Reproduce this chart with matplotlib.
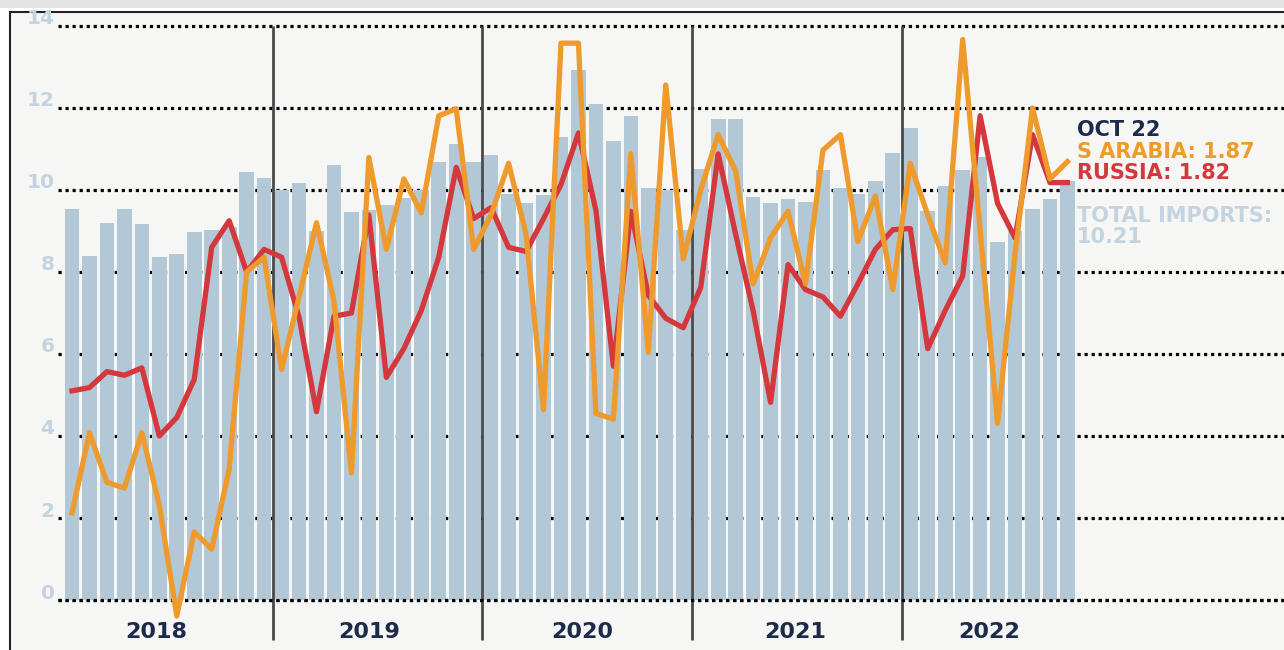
import matplotlib.pyplot as plt
from matplotlib.patches import Rectangle
import numpy as np

# monthly values, Jan 2018 - Oct 2022 (as plotted on the chart scale)
total = [9.53, 8.39, 9.20, 9.53, 9.16, 8.36, 8.44, 8.97, 9.03, 9.10, 10.44, 10.29,
         10.00, 10.18, 9.00, 10.62, 9.46, 9.50, 9.64, 9.80, 10.00, 10.69, 11.11, 10.69,
         10.85, 9.90, 9.69, 9.87, 11.30, 12.93, 12.10, 11.20, 11.81, 10.04, 10.00, 9.03,
         10.50, 11.72, 11.72, 9.84, 9.69, 9.79, 9.71, 10.48, 10.04, 9.90, 10.23, 10.90,
         11.50, 9.48, 10.10, 10.48, 10.80, 8.74, 9.00, 9.53, 9.79, 10.21]
russia = [5.10, 5.18, 5.57, 5.48, 5.66, 4.00, 4.45, 5.38, 8.60, 9.25, 8.00, 8.55,
          8.36, 6.90, 4.59, 6.92, 7.00, 9.39, 5.43, 6.13, 7.06, 8.36, 10.55, 9.30,
          9.57, 8.60, 8.50, 9.30, 10.13, 11.39, 9.50, 5.70, 9.48, 7.43, 6.87, 6.64,
          7.62, 10.88, 8.92, 7.06, 4.82, 8.18, 7.57, 7.39, 6.92, 7.71, 8.55, 9.03,
          9.06, 6.13, 7.06, 7.90, 11.81, 9.67, 8.83, 11.35, 10.18, 10.18]
sarabia = [2.12, 4.08, 2.87, 2.73, 4.08, 2.31, -0.39, 1.66, 1.24, 3.19, 8.00, 8.36,
           5.62, 7.39, 9.20, 7.30, 3.10, 10.79, 8.55, 10.27, 9.44, 11.81, 11.98, 8.55,
           9.40, 10.65, 8.92, 4.64, 13.58, 13.58, 4.55, 4.41, 10.88, 6.04, 12.56, 8.32,
           10.00, 11.35, 10.46, 7.71, 8.83, 9.48, 7.71, 10.97, 11.35, 8.74, 9.85, 7.57,
           10.65, 9.39, 8.22, 13.67, 9.02, 4.31, 8.44, 12.00, 10.27, 10.69]
years = ['2018', '2019', '2020', '2021', '2022']
year_pos = [4.8, 17.0, 29.2, 41.4, 52.5]
yticks = [0, 2, 4, 6, 8, 10, 12, 14]
last_label = 'OCT 22'
sa_last = 1.87
ru_last = 1.82

bar_col = '#b3c8d6'
red = '#d4383d'
orange = '#ee9a2c'
navy = '#1c2b4a'
pale = '#c3d4e0'

x = np.arange(len(total))

fig = plt.figure(figsize=(12.84, 6.5), dpi=100)
fig.patch.set_facecolor('white')
fig.patches.append(Rectangle((0, 1 - 8 / 650), 1, 8 / 650, transform=fig.transFigure,
                             facecolor='#e4e4e4', edgecolor='none', zorder=0))

ax = fig.add_axes([10 / 1284, 0, 1274 / 1284, 638 / 650])
ax.set_facecolor('#f6f6f4')
ax.set_xlim(-3.55, 69.4)
ax.set_ylim(-1.22, 14.34)
for s in ['right', 'bottom']:
    ax.spines[s].set_visible(False)
for s in ['left', 'top']:
    ax.spines[s].set_linewidth(1.5)
    ax.spines[s].set_color('#222222')
ax.set_xticks([])
ax.set_yticks([])

# dotted gridlines
for v in yticks:
    ax.plot([-0.8, 69.4], [v, v], color='black', lw=2.3, ls=(0, (1, 1.2)), zorder=1)
    ax.text(-1.0, v + 0.17, str(v), ha='right', va='center', fontsize=14.5,
            fontweight='bold', color=pale)
ax.plot([-0.8, 69.4], [0, 0], color='black', lw=2.3, ls=(0, (1, 1.2)), zorder=4)

ax.bar(x, total, width=0.84, color=bar_col, zorder=2)

# year separators
for i in range(1, len(years)):
    ax.vlines(12 * i - 0.5, -0.98, 14, color='#4a4a4a', lw=2, zorder=3)
for pos, yr in zip(year_pos, years):
    ax.text(pos, -0.78, yr, ha='center', va='center', fontsize=16,
            fontweight='bold', color=navy)

ax.plot(x, russia, color=red, lw=3.8, zorder=5)
ax.plot(x, sarabia, color=orange, lw=3.8, zorder=6)

tx = 1077 / 1284
fig.text(tx, 1 - 130 / 650, last_label, fontsize=15, fontweight='bold', color=navy, va='center')
fig.text(tx, 1 - 152 / 650, f'S ARABIA: {sa_last:.2f}', fontsize=15, fontweight='bold',
         color=orange, va='center')
fig.text(tx, 1 - 173 / 650, f'RUSSIA: {ru_last:.2f}', fontsize=15, fontweight='bold',
         color=red, va='center')
fig.text(tx, 1 - 216 / 650, 'TOTAL IMPORTS:', fontsize=15, fontweight='bold', color=pale, va='center')
fig.text(tx, 1 - 237 / 650, f'{total[-1]:.2f}', fontsize=15, fontweight='bold', color=pale, va='center')

fig.savefig('out.png', dpi=100)
